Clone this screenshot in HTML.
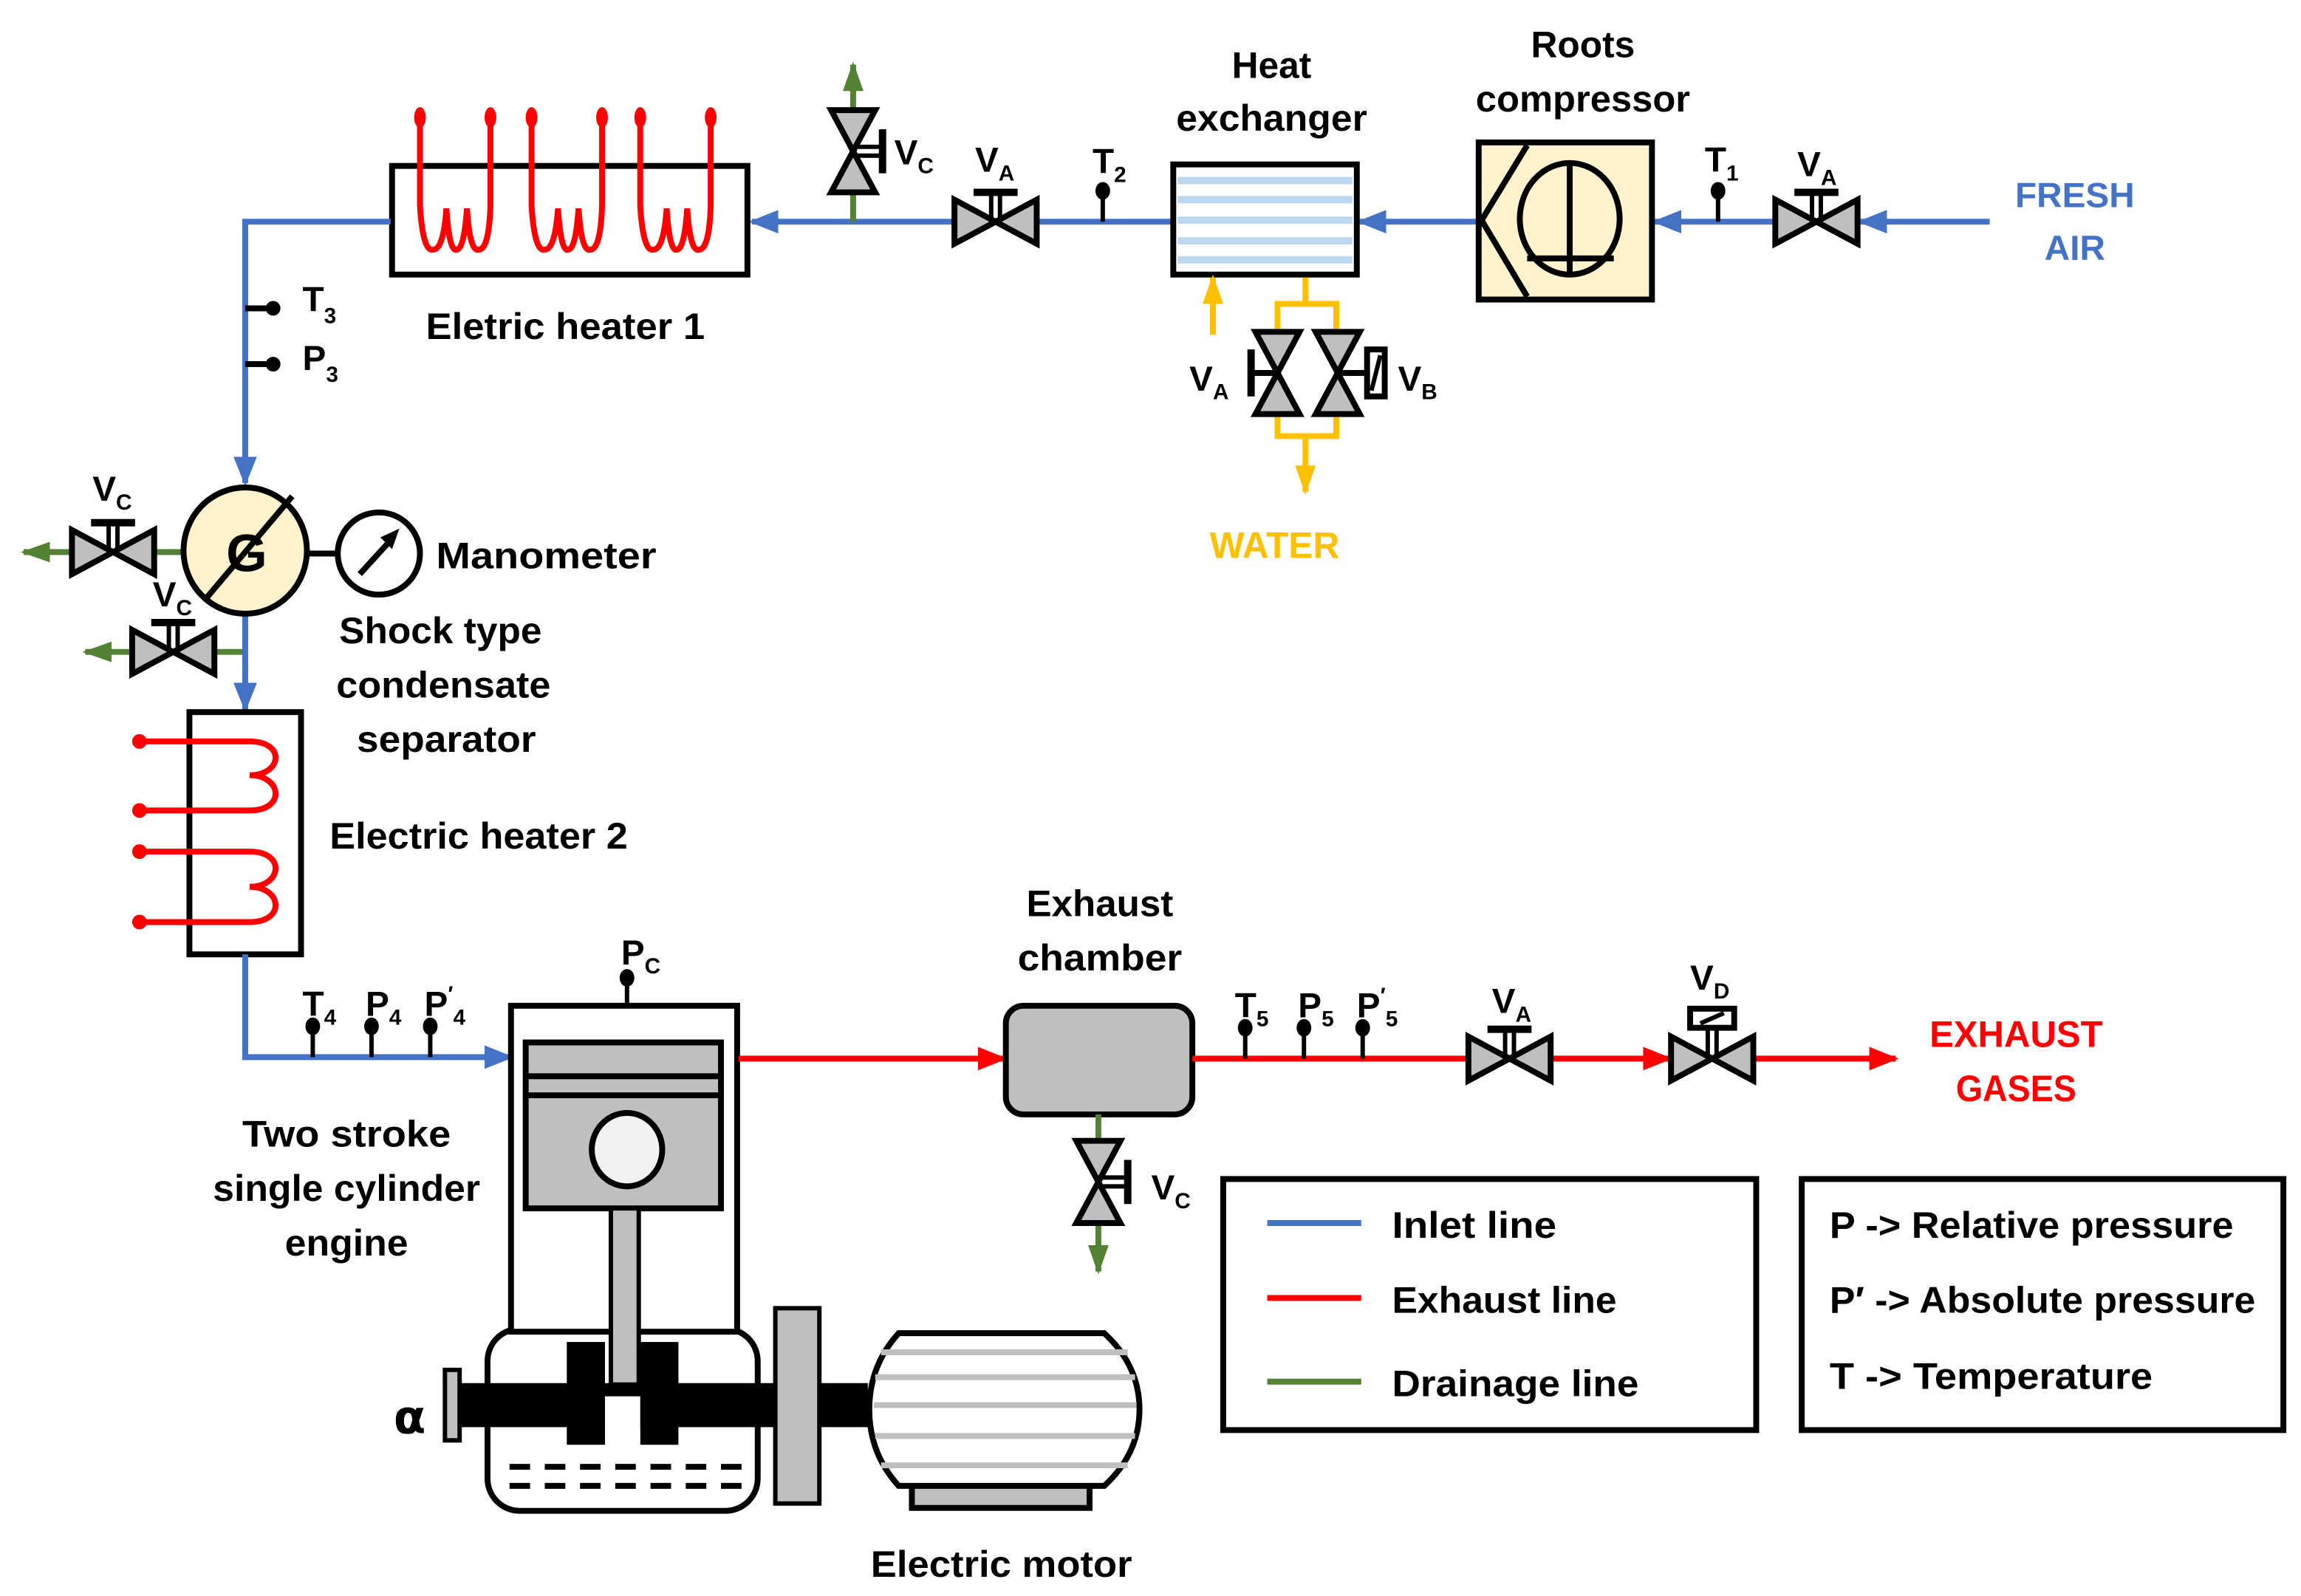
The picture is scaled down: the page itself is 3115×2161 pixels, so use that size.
<!DOCTYPE html>
<html><head><meta charset="utf-8"><style>
html,body{margin:0;padding:0;background:#fff}
svg{display:block}
text{font-family:"Liberation Sans",sans-serif;font-weight:bold;fill:#000}
</style></head><body>
<svg width="3115" height="2161" viewBox="0 0 1567 1087" preserveAspectRatio="none" xmlns="http://www.w3.org/2000/svg">
<defs>
<marker id="ab" markerUnits="userSpaceOnUse" markerWidth="20" markerHeight="20" refX="18" refY="10" orient="auto"><path d="M0,2 L20,10 L0,18z" fill="#4472c4"/></marker>
<marker id="ar" markerUnits="userSpaceOnUse" markerWidth="20" markerHeight="20" refX="18" refY="10" orient="auto"><path d="M0,2 L20,10 L0,18z" fill="#ff0000"/></marker>
<marker id="ag" markerUnits="userSpaceOnUse" markerWidth="20" markerHeight="20" refX="18" refY="10" orient="auto"><path d="M0,3 L20,10 L0,17z" fill="#548235"/></marker>
<marker id="ay" markerUnits="userSpaceOnUse" markerWidth="20" markerHeight="20" refX="18" refY="10" orient="auto"><path d="M0,3 L20,10 L0,17z" fill="#ffc000"/></marker>
<g id="valve">
<polygon points="-28,-15 -28,15 0,0" fill="#bfbfbf" stroke="#000" stroke-width="4" stroke-linejoin="miter"/>
<polygon points="28,-15 28,15 0,0" fill="#bfbfbf" stroke="#000" stroke-width="4"/>
<line x1="-3" y1="0" x2="-3" y2="-18" stroke="#000" stroke-width="3"/>
<line x1="3" y1="0" x2="3" y2="-18" stroke="#000" stroke-width="3"/>
<line x1="-15" y1="-20" x2="15" y2="-20" stroke="#000" stroke-width="5"/>
</g>
<g id="bow">
<polygon points="-28,-15 -28,15 0,0" fill="#bfbfbf" stroke="#000" stroke-width="4"/>
<polygon points="28,-15 28,15 0,0" fill="#bfbfbf" stroke="#000" stroke-width="4"/>
</g>
<g id="sens"><line x1="0" y1="0" x2="0" y2="-20" stroke="#000" stroke-width="3"/><ellipse cx="0" cy="-21" rx="5" ry="6" fill="#000"/></g>
</defs>

<line x1="1355" y1="151" x2="1267" y2="151" stroke="#4472c4" stroke-width="4" marker-end="url(#ab)"/>
<line x1="1207" y1="151" x2="1127" y2="151" stroke="#4472c4" stroke-width="4" marker-end="url(#ab)"/>
<line x1="1007" y1="151" x2="926" y2="151" stroke="#4472c4" stroke-width="4" marker-end="url(#ab)"/>
<line x1="799" y1="151" x2="512" y2="151" stroke="#4472c4" stroke-width="4" marker-end="url(#ab)"/>
<text x="1413" y="141" font-size="24" text-anchor="middle" style="fill:#4472c4">FRESH</text>
<text x="1413" y="177" font-size="24" text-anchor="middle" style="fill:#4472c4">AIR</text>

<use href="#valve" x="1237" y="151"/>
<text x="1224" y="120" font-size="24">V<tspan font-size="15" dy="6">A</tspan></text>
<use href="#sens" x="1170" y="151"/>
<text x="1161" y="117" font-size="24">T<tspan font-size="15" dy="6">1</tspan></text>

<rect x="1007" y="97" width="118" height="107" fill="#fff2cc" stroke="#000" stroke-width="4"/>
<ellipse cx="1069" cy="149" rx="34" ry="38" fill="none" stroke="#000" stroke-width="4"/>
<line x1="1069" y1="111" x2="1069" y2="187" stroke="#000" stroke-width="4"/>
<line x1="1040" y1="176" x2="1099" y2="176" stroke="#000" stroke-width="4"/>
<polyline points="1040,99 1009,150 1040,202" fill="none" stroke="#000" stroke-width="4"/>
<text x="1078" y="39" font-size="25" text-anchor="middle">Roots</text>
<text x="1078" y="76" font-size="25" text-anchor="middle" textLength="146" lengthAdjust="spacingAndGlyphs">compressor</text>

<rect x="799" y="112" width="125" height="75" fill="#fff" stroke="#000" stroke-width="4"/>
<g stroke="#bdd7ee" stroke-width="5"><line x1="802" y1="123" x2="921" y2="123"/><line x1="802" y1="136" x2="921" y2="136"/><line x1="802" y1="150" x2="921" y2="150"/><line x1="802" y1="164" x2="921" y2="164"/><line x1="802" y1="177" x2="921" y2="177"/></g>
<text x="866" y="53" font-size="25" text-anchor="middle">Heat</text>
<text x="866" y="89" font-size="25" text-anchor="middle" textLength="130" lengthAdjust="spacingAndGlyphs">exchanger</text>

<line x1="826" y1="228" x2="826" y2="189" stroke="#ffc000" stroke-width="4" marker-end="url(#ay)"/>
<polyline points="889,189 889,207 870,207 870,226" fill="none" stroke="#ffc000" stroke-width="4"/>
<polyline points="889,207 910,207 910,226" fill="none" stroke="#ffc000" stroke-width="4"/>
<polyline points="870,282 870,297 910,297 910,282" fill="none" stroke="#ffc000" stroke-width="4"/>
<line x1="889" y1="297" x2="889" y2="335" stroke="#ffc000" stroke-width="4" marker-end="url(#ay)"/>
<g transform="translate(870,254) rotate(90)"><use href="#bow"/></g>
<line x1="870" y1="254" x2="852" y2="254" stroke="#000" stroke-width="4"/>
<line x1="852" y1="238" x2="852" y2="270" stroke="#000" stroke-width="5"/>
<g transform="translate(911,254) rotate(90)"><use href="#bow"/></g>
<line x1="911" y1="254" x2="930" y2="254" stroke="#000" stroke-width="4"/>
<rect x="931" y="238" width="12" height="32" fill="#fff" stroke="#000" stroke-width="4"/>
<line x1="934" y1="266" x2="940" y2="242" stroke="#000" stroke-width="3"/>
<text x="810" y="266" font-size="24">V<tspan font-size="15" dy="6">A</tspan></text>
<text x="952" y="266" font-size="24">V<tspan font-size="15" dy="6">B</tspan></text>
<text x="868" y="380" font-size="25" text-anchor="middle" style="fill:#ffc000">WATER</text>

<use href="#sens" x="751" y="151"/>
<text x="744" y="118" font-size="24">T<tspan font-size="15" dy="6">2</tspan></text>
<use href="#valve" x="678" y="151"/>
<text x="664" y="117" font-size="24">V<tspan font-size="15" dy="6">A</tspan></text>
<line x1="581" y1="151" x2="581" y2="44" stroke="#548235" stroke-width="4" marker-end="url(#ag)"/>
<g transform="translate(581,103) rotate(90)"><use href="#valve"/></g>
<text x="609" y="112" font-size="24">V<tspan font-size="15" dy="6">C</tspan></text>

<rect x="267" y="113" width="242" height="74" fill="#fff" stroke="#000" stroke-width="4"/>
<g fill="none" stroke="#ff0000" stroke-width="4" stroke-linecap="round">
<path d="M286,80 V140 Q288,172 295,170 Q302,170 304,142 Q306,172 311,170 Q316,170 318,142 Q320,172 326,170 Q333,170 334,140 V80"/>
<path d="M362,80 V140 Q364,172 371,170 Q378,170 380,142 Q382,172 387,170 Q392,170 394,142 Q396,172 402,170 Q409,170 410,140 V80"/>
<path d="M436,80 V140 Q438,172 445,170 Q452,170 454,142 Q456,172 461,170 Q466,170 468,142 Q470,172 476,170 Q483,170 484,140 V80"/>
</g>
<g fill="#ff0000"><ellipse cx="286" cy="80" rx="4" ry="7"/><ellipse cx="334" cy="80" rx="4" ry="7"/><ellipse cx="362" cy="80" rx="4" ry="7"/><ellipse cx="410" cy="80" rx="4" ry="7"/><ellipse cx="436" cy="80" rx="4" ry="7"/><ellipse cx="484" cy="80" rx="4" ry="7"/></g>
<text x="385" y="231" font-size="25" text-anchor="middle" textLength="190" lengthAdjust="spacingAndGlyphs">Eletric heater 1</text>

<polyline points="266,151 167,151 167,329" fill="none" stroke="#4472c4" stroke-width="4" marker-end="url(#ab)"/>
<line x1="167" y1="210" x2="185" y2="210" stroke="#000" stroke-width="4"/><circle cx="186" cy="210" r="5"/>
<line x1="167" y1="248" x2="185" y2="248" stroke="#000" stroke-width="4"/><circle cx="186" cy="248" r="5"/>
<text x="206" y="212" font-size="24">T<tspan font-size="15" dy="8">3</tspan></text>
<text x="206" y="252" font-size="24">P<tspan font-size="15" dy="8">3</tspan></text>

<line x1="125" y1="376" x2="16" y2="376" stroke="#548235" stroke-width="4" marker-end="url(#ag)"/>
<use href="#valve" x="77" y="376"/>
<text x="63" y="341" font-size="24">V<tspan font-size="15" dy="6">C</tspan></text>
<line x1="167" y1="444" x2="58" y2="444" stroke="#548235" stroke-width="4" marker-end="url(#ag)"/>
<use href="#valve" x="118" y="444"/>
<text x="104" y="413" font-size="24">V<tspan font-size="15" dy="6">C</tspan></text>
<line x1="167" y1="417" x2="167" y2="483" stroke="#4472c4" stroke-width="4" marker-end="url(#ab)"/>
<ellipse cx="167" cy="375" rx="42" ry="43" fill="#fff2cc" stroke="#000" stroke-width="4"/>
<text x="168" y="389" font-size="36" text-anchor="middle">G</text>
<line x1="140" y1="408" x2="199" y2="338" stroke="#000" stroke-width="4"/>
<line x1="209" y1="377" x2="231" y2="377" stroke="#000" stroke-width="4"/>
<circle cx="258" cy="377" r="28" fill="#fff" stroke="#000" stroke-width="4"/>
<line x1="245" y1="391" x2="266" y2="368" stroke="#000" stroke-width="4"/>
<polygon points="272,360 259,366 267,374" fill="#000"/>
<text x="297" y="387" font-size="25" textLength="150" lengthAdjust="spacingAndGlyphs">Manometer</text>
<text x="300" y="438" font-size="25" text-anchor="middle" textLength="138" lengthAdjust="spacingAndGlyphs">Shock type</text>
<text x="302" y="475" font-size="25" text-anchor="middle" textLength="146" lengthAdjust="spacingAndGlyphs">condensate</text>
<text x="304" y="512" font-size="25" text-anchor="middle" textLength="122" lengthAdjust="spacingAndGlyphs">separator</text>

<rect x="129" y="485" width="76" height="165" fill="#fff" stroke="#000" stroke-width="4"/>
<g fill="none" stroke="#ff0000" stroke-width="4">
<path d="M95,505 H170 C195,505 192,528 170,528 C192,528 195,552 170,552 H95"/>
<path d="M95,580 H170 C195,580 192,604 170,604 C192,604 195,628 170,628 H95"/>
</g>
<g fill="#ff0000"><circle cx="95" cy="505" r="5"/><circle cx="95" cy="552" r="5"/><circle cx="95" cy="580" r="5"/><circle cx="95" cy="628" r="5"/></g>
<text x="326" y="578" font-size="25" text-anchor="middle" textLength="203" lengthAdjust="spacingAndGlyphs">Electric heater 2</text>

<polyline points="167,650 167,720 348,720" fill="none" stroke="#4472c4" stroke-width="4" marker-end="url(#ab)"/>
<use href="#sens" x="213" y="720"/><use href="#sens" x="253" y="720"/><use href="#sens" x="293" y="720"/>
<text x="206" y="692" font-size="24">T<tspan font-size="15" dy="6">4</tspan></text>
<text x="249" y="692" font-size="24">P<tspan font-size="15" dy="6">4</tspan></text>
<text x="289" y="692" font-size="24">P<tspan font-size="15" dy="-10">′</tspan><tspan font-size="15" dy="16">4</tspan></text>
<text x="236" y="781" font-size="25" text-anchor="middle" textLength="142" lengthAdjust="spacingAndGlyphs">Two stroke</text>
<text x="236" y="818" font-size="25" text-anchor="middle" textLength="182" lengthAdjust="spacingAndGlyphs">single cylinder</text>
<text x="236" y="855" font-size="25" text-anchor="middle" textLength="84" lengthAdjust="spacingAndGlyphs">engine</text>

<use href="#sens" x="427" y="687"/>
<text x="423" y="657" font-size="24">P<tspan font-size="15" dy="6">C</tspan></text>
<rect x="332" y="905" width="184" height="124" rx="22" fill="#fff" stroke="#000" stroke-width="4"/>
<g stroke="#000" stroke-width="4" stroke-dasharray="14,10"><line x1="347" y1="999" x2="512" y2="999"/><line x1="347" y1="1012" x2="512" y2="1012"/></g>
<rect x="348" y="685" width="154" height="222" fill="#fff" stroke="#000" stroke-width="4"/>
<rect x="358" y="710" width="133" height="113" fill="#bfbfbf" stroke="#000" stroke-width="4"/>
<line x1="358" y1="733" x2="491" y2="733" stroke="#000" stroke-width="4"/>
<line x1="358" y1="746" x2="491" y2="746" stroke="#000" stroke-width="4"/>
<ellipse cx="427" cy="783" rx="24" ry="25" fill="#f2f2f2" stroke="#000" stroke-width="4"/>
<rect x="386" y="914" width="26" height="70" fill="#000"/>
<rect x="436" y="914" width="26" height="70" fill="#000"/>
<rect x="311" y="942" width="280" height="30" fill="#000"/>
<rect x="412" y="951" width="24" height="33" fill="#fff"/>
<rect x="416" y="823" width="19" height="120" fill="#bfbfbf" stroke="#000" stroke-width="3"/>
<rect x="303" y="933" width="10" height="48" fill="#bfbfbf" stroke="#000" stroke-width="3"/>
<text x="268" y="976" font-size="32" style="font-family:'DejaVu Sans',sans-serif">α</text>
<rect x="528" y="891" width="30" height="133" fill="#bfbfbf" stroke="#000" stroke-width="3"/>
<rect x="621" y="1010" width="121" height="17" fill="#bfbfbf" stroke="#000" stroke-width="4"/>
<path d="M612,908 H752 Q776,930 776,960 Q776,990 752,1012 H612 Q592,990 592,960 Q592,930 612,908Z" fill="#fff" stroke="#000" stroke-width="4"/>
<g stroke="#bfbfbf" stroke-width="4"><line x1="600" y1="921" x2="768" y2="921"/><line x1="596" y1="938" x2="773" y2="938"/><line x1="595" y1="957" x2="774" y2="957"/><line x1="596" y1="978" x2="773" y2="978"/><line x1="600" y1="998" x2="768" y2="998"/></g>
<text x="682" y="1074" font-size="25" text-anchor="middle" textLength="178" lengthAdjust="spacingAndGlyphs">Electric motor</text>

<line x1="503" y1="721" x2="684" y2="721" stroke="#ff0000" stroke-width="4" marker-end="url(#ar)"/>
<rect x="685" y="685" width="127" height="74" rx="12" fill="#bfbfbf" stroke="#000" stroke-width="4"/>
<text x="749" y="624" font-size="25" text-anchor="middle" textLength="100" lengthAdjust="spacingAndGlyphs">Exhaust</text>
<text x="749" y="661" font-size="25" text-anchor="middle" textLength="112" lengthAdjust="spacingAndGlyphs">chamber</text>
<line x1="748" y1="759" x2="748" y2="866" stroke="#548235" stroke-width="4" marker-end="url(#ag)"/>
<g transform="translate(748,805) rotate(90)"><use href="#valve"/></g>
<text x="784" y="817" font-size="24">V<tspan font-size="15" dy="6">C</tspan></text>
<line x1="812" y1="721" x2="1000" y2="721" stroke="#ff0000" stroke-width="4"/>
<line x1="1056" y1="721" x2="1137" y2="721" stroke="#ff0000" stroke-width="4" marker-end="url(#ar)"/>
<line x1="1194" y1="721" x2="1291" y2="721" stroke="#ff0000" stroke-width="4" marker-end="url(#ar)"/>
<use href="#sens" x="848" y="721"/><use href="#sens" x="888" y="721"/><use href="#sens" x="928" y="721"/>
<text x="841" y="693" font-size="24">T<tspan font-size="15" dy="6">5</tspan></text>
<text x="884" y="693" font-size="24">P<tspan font-size="15" dy="6">5</tspan></text>
<text x="924" y="693" font-size="24">P<tspan font-size="15" dy="-10">′</tspan><tspan font-size="15" dy="16">5</tspan></text>
<use href="#valve" x="1028" y="721"/>
<text x="1016" y="690" font-size="24">V<tspan font-size="15" dy="6">A</tspan></text>
<g transform="translate(1166,721)"><use href="#bow"/>
<line x1="-3" y1="0" x2="-3" y2="-22" stroke="#000" stroke-width="3"/><line x1="3" y1="0" x2="3" y2="-22" stroke="#000" stroke-width="3"/>
<rect x="-15" y="-34" width="30" height="13" fill="#fff" stroke="#000" stroke-width="4"/>
<line x1="-8" y1="-24" x2="8" y2="-31" stroke="#000" stroke-width="3"/></g>
<text x="1151" y="674" font-size="24">V<tspan font-size="15" dy="6">D</tspan></text>
<text x="1373" y="713" font-size="25" text-anchor="middle" style="fill:#ff0000" textLength="118" lengthAdjust="spacingAndGlyphs">EXHAUST</text>
<text x="1373" y="750" font-size="25" text-anchor="middle" style="fill:#ff0000" textLength="82" lengthAdjust="spacingAndGlyphs">GASES</text>

<rect x="833" y="803" width="363" height="171" fill="#fff" stroke="#000" stroke-width="4"/>
<line x1="863" y1="833" x2="927" y2="833" stroke="#4472c4" stroke-width="4"/>
<line x1="863" y1="884" x2="927" y2="884" stroke="#ff0000" stroke-width="4"/>
<line x1="863" y1="941" x2="927" y2="941" stroke="#548235" stroke-width="4"/>
<text x="948" y="843" font-size="25" textLength="112" lengthAdjust="spacingAndGlyphs">Inlet line</text>
<text x="948" y="894" font-size="25" textLength="153" lengthAdjust="spacingAndGlyphs">Exhaust line</text>
<text x="948" y="951" font-size="25" textLength="168" lengthAdjust="spacingAndGlyphs">Drainage line</text>
<rect x="1227" y="803" width="328" height="171" fill="#fff" stroke="#000" stroke-width="4"/>
<text x="1246" y="843" font-size="25" textLength="275" lengthAdjust="spacingAndGlyphs">P -&gt; Relative pressure</text>
<text x="1246" y="894" font-size="25" textLength="290" lengthAdjust="spacingAndGlyphs">P′ -&gt; Absolute pressure</text>
<text x="1246" y="946" font-size="25" textLength="220" lengthAdjust="spacingAndGlyphs">T -&gt; Temperature</text>
</svg>
</body></html>
